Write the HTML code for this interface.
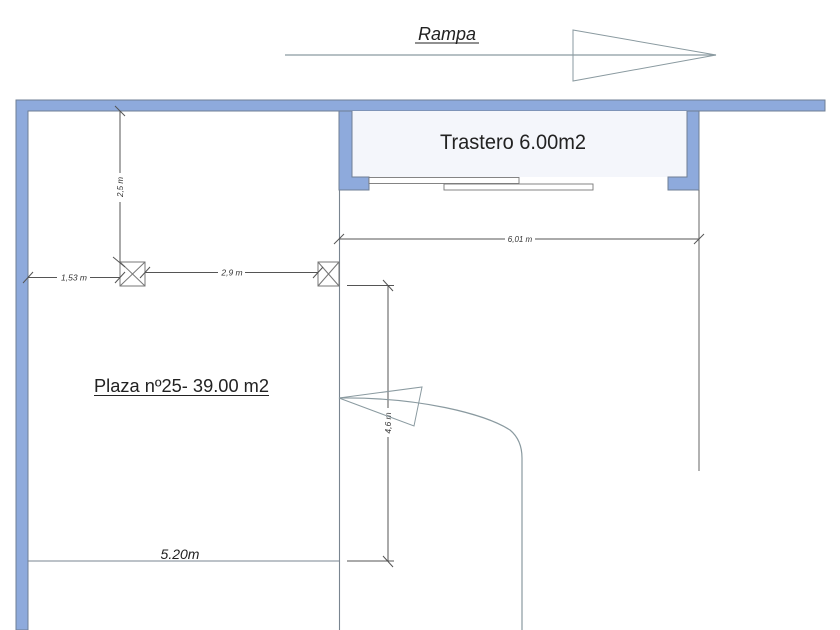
<!DOCTYPE html>
<html><head><meta charset="utf-8"><style>
html,body{margin:0;padding:0;background:#fff;}
svg{display:block;}
text{font-family:"Liberation Sans",Arial,sans-serif;}
</style></head><body>
<svg width="840" height="630" viewBox="0 0 840 630" xmlns="http://www.w3.org/2000/svg">
<rect width="840" height="630" fill="#fff"/>

<!-- Rampa arrow -->
<line x1="285" y1="55" x2="716" y2="55" stroke="#8a9aa0" stroke-width="1.3"/>
<polygon points="573,30 716,55 573,81" fill="none" stroke="#8a9aa0" stroke-width="1"/>
<text x="447" y="40" font-size="18" font-style="italic" text-anchor="middle" fill="#222">Rampa</text>
<line x1="415" y1="43" x2="479" y2="43" stroke="#222" stroke-width="1"/>

<!-- Walls -->
<path d="M16,100 L825,100 L825,111 L28,111 L28,630 L16,630 Z" fill="#8eaadc" stroke="#6f7f95" stroke-width="1"/>
<!-- Trastero interior -->
<rect x="352" y="111" width="335" height="66" fill="#f4f6fb"/>
<path d="M339,111 L352,111 L352,177 L369,177 L369,190 L339,190 Z" fill="#8eaadc" stroke="#6f7f95" stroke-width="1"/>
<path d="M687,111 L699,111 L699,190 L668,190 L668,177 L687,177 Z" fill="#8eaadc" stroke="#6f7f95" stroke-width="1"/>
<!-- sliding doors -->
<rect x="369" y="177.5" width="150" height="6" fill="#fff" stroke="#777" stroke-width="0.9"/>
<rect x="444" y="184" width="149" height="6" fill="#fff" stroke="#777" stroke-width="0.9"/>
<text x="513" y="149" font-size="21" text-anchor="middle" fill="#222" textLength="146" lengthAdjust="spacingAndGlyphs">Trastero 6.00m2</text>

<!-- structural lines -->
<line x1="339.5" y1="190" x2="339.5" y2="630" stroke="#7a8590" stroke-width="1.1"/>
<line x1="699" y1="190" x2="699" y2="471" stroke="#666" stroke-width="1"/>

<!-- 6,01 m -->
<line x1="339" y1="239" x2="505" y2="239" stroke="#555" stroke-width="1"/>
<line x1="535" y1="239" x2="699" y2="239" stroke="#555" stroke-width="1"/>
<line x1="334" y1="244" x2="344" y2="234" stroke="#555" stroke-width="1"/>
<line x1="694" y1="244" x2="704" y2="234" stroke="#555" stroke-width="1"/>
<text x="520" y="242" font-size="8" font-style="italic" text-anchor="middle" fill="#333">6,01 m</text>

<!-- pillars -->
<g stroke="#777" stroke-width="1" fill="#fff">
<rect x="120" y="262" width="25" height="24"/>
<line x1="120" y1="262" x2="145" y2="286"/><line x1="145" y1="262" x2="120" y2="286"/>
<rect x="318" y="262" width="21" height="24"/>
<line x1="318" y1="262" x2="339" y2="286"/><line x1="339" y1="262" x2="318" y2="286"/>
</g>

<!-- 2,5 m -->
<line x1="120" y1="111" x2="120" y2="173" stroke="#555" stroke-width="1"/>
<line x1="120" y1="202" x2="120" y2="262" stroke="#555" stroke-width="1"/>
<line x1="115" y1="106" x2="125" y2="116" stroke="#555" stroke-width="1"/>
<line x1="113" y1="257" x2="125" y2="267" stroke="#555" stroke-width="1"/>
<text transform="translate(123,187) rotate(-90)" font-size="8" font-style="italic" text-anchor="middle" fill="#333">2,5 m</text>

<!-- 1,53 m -->
<line x1="28" y1="277.5" x2="57" y2="277.5" stroke="#555" stroke-width="1"/>
<line x1="90" y1="277.5" x2="120" y2="277.5" stroke="#555" stroke-width="1"/>
<line x1="23" y1="283" x2="33" y2="272" stroke="#555" stroke-width="1"/>
<line x1="115" y1="283" x2="125" y2="272" stroke="#555" stroke-width="1"/>
<text x="74" y="280.5" font-size="8.5" font-style="italic" text-anchor="middle" fill="#333">1,53 m</text>

<!-- 2,9 m -->
<line x1="145" y1="272.5" x2="218" y2="272.5" stroke="#555" stroke-width="1"/>
<line x1="245" y1="272.5" x2="318" y2="272.5" stroke="#555" stroke-width="1"/>
<line x1="140" y1="278" x2="150" y2="267" stroke="#555" stroke-width="1"/>
<line x1="313" y1="278" x2="323" y2="267" stroke="#555" stroke-width="1"/>
<text x="232" y="275.5" font-size="8.5" font-style="italic" text-anchor="middle" fill="#333">2,9 m</text>

<!-- 4,6 m -->
<line x1="347" y1="285.5" x2="394" y2="285.5" stroke="#555" stroke-width="1"/>
<line x1="347" y1="561" x2="394" y2="561" stroke="#555" stroke-width="1"/>
<line x1="388" y1="285.5" x2="388" y2="408" stroke="#555" stroke-width="1"/>
<line x1="388" y1="437" x2="388" y2="561" stroke="#555" stroke-width="1"/>
<line x1="383" y1="280" x2="393" y2="291" stroke="#555" stroke-width="1"/>
<line x1="383" y1="556" x2="393" y2="567" stroke="#555" stroke-width="1"/>
<text transform="translate(391,423) rotate(-90)" font-size="8.5" font-style="italic" text-anchor="middle" fill="#333">4,6 m</text>

<!-- curved arrow -->
<path d="M339,398 C420,397 485,414 510,430 Q522,440 522,458 L522,630" fill="none" stroke="#8a9aa0" stroke-width="1.2"/>
<polygon points="339,398 422,387 414,426" fill="none" stroke="#8a9aa0" stroke-width="1"/>

<!-- Plaza label -->
<text x="94" y="392" font-size="18" fill="#222" textLength="175" lengthAdjust="spacingAndGlyphs">Plaza nº25- 39.00 m2</text>
<line x1="94" y1="395.5" x2="269" y2="395.5" stroke="#222" stroke-width="1"/>

<!-- 5.20m -->
<line x1="28" y1="561" x2="339" y2="561" stroke="#7a8590" stroke-width="1.1"/>
<text x="180" y="559" font-size="14" font-style="italic" text-anchor="middle" fill="#222">5.20m</text>
</svg>
</body></html>
